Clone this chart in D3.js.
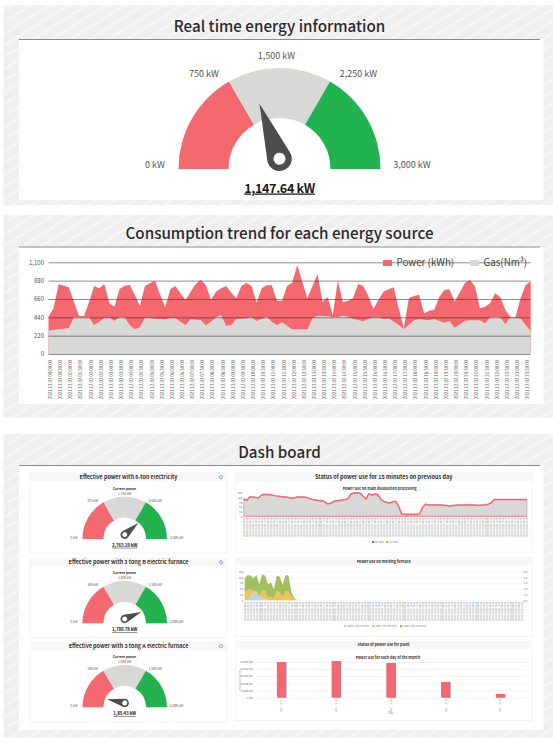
<!DOCTYPE html>
<html>
<head>
<meta charset="utf-8">
<script src="https://cdn.jsdelivr.net/npm/d3@7"></script>
<style>
  body { margin: 0; background: #fff; }
  text { font-family: "Noto Sans CJK KR", "Noto Sans", sans-serif; }
</style>
</head>
<body>
<div id="chart"></div>
<script>
// colors shared by every chart on the page
const RED = '#f4686f', GRAY = '#d8d8d6', GREEN = '#22b24f', DARK = '#4d4d4d'

// gauges
const gaugeStops = [0, 1/3, 2/3, 1]
const mainTicks = ['0 kW', '750 kW', '1,500 kW', '2,250 kW', '3,000 kW']
const mainMax = 3000
const mainValue = 1147.64
const mainLabel = '1,147.64 kW'
const smallTitles = ['Effective power with 6-ton electricity', 'Effective power with 3 tong B electric furnace', 'Effective power with 3 tong A electric furnace']
const smallTicks = [
  ['0 kW', '875 kW', '1,750 kW', '2,625 kW', '3,500 kW'],
  ['0 kW', '500 kW', '1,000 kW', '1,500 kW', '2,000 kW'],
  ['0 kW', '500 kW', '1,000 kW', '1,500 kW', '2,000 kW']
]
const smallMax = [3500, 2000, 2000]
const smallValues = [2763.19, 1789.78, 85.43]
const smallLabels = ['2,763.19 kW', '1,789.78 kW', '1,85.43 kW']

// consumption trend, one point per 15 minutes
const trendPower = [448,548,840,820,800,628,456,456,628,816,788,840,608,568,780,820,828,708,576,816,848,880,708,560,776,816,728,648,748,840,888,828,648,748,788,816,736,668,816,856,816,616,788,824,824,640,640,816,856,1068,868,668,816,956,628,680,468,880,620,640,668,840,816,696,540,648,748,776,800,548,308,668,696,712,488,520,532,688,768,776,628,736,848,888,816,548,568,608,728,680,528,448,440,668,828,872]
const trendGas = [284,288,296,304,312,440,440,440,440,348,388,432,436,400,440,440,348,296,320,436,432,424,420,416,432,432,388,348,416,412,408,344,388,440,468,340,348,424,424,428,440,396,424,448,388,348,380,340,296,296,296,296,428,460,456,452,444,444,460,448,424,408,392,420,440,440,420,428,388,348,300,352,404,420,412,404,420,396,376,396,316,352,400,404,404,404,368,440,440,440,360,440,436,428,348,276]
const trendTicks = [0, 220, 440, 660, 880, 1100]
const trendLegend = ['Power (kWh)', 'Gas(Nm³)']

// main dissolution processing, 15 minutes
const processKwh = [110,101,123,123,120,118,135,139,139,137,133,129,127,125,123,120,114,118,123,123,123,120,114,106,104,101,99,95,80,82,93,99,101,104,106,114,142,148,148,148,129,110,144,135,142,137,108,95,89,85,93,95,61,13,13,13,13,13,13,17,57,78,72,72,72,72,72,70,68,66,68,70,72,72,72,72,72,72,70,70,72,72,76,87,106,106,106,106,106,106,106,106,106,106,106,106]
const processGas = [0,0,0,0,0,0,0,0,0,0,0,0,0,0,0,0,0,0,0,0,0,0,0,0,0,0,0,0,0,0,0,0,0,0,0,0,0,0,0,0,0,0,0,0,0,0,0,0,0,0,0,0,0,0,0,0,0,0,0,0,0,0,0,0,0,0,0,0,0,0,0,0,0,0,0,0,0,0,0,0,0,0,0,0,0,0,0,0,0,0,0,0,0,0,0,0]
const processTicks = [0, 30, 60, 90, 120, 150]

// melting furnace, only the first points of the day have readings
const furnaceNames = ['UBOT 1st line kWh', '2BOT 1st line kWh', '2BOT 2nd line kWh']
const furnaceA = [0,0,20,42,40,16,10,8,0,0,0,0,0,0,0,0,0,0,0]
const furnaceB = [45,53,37,8,8,3,43,40,14,19,10,48,41,14,48,45,19,7,2]
const furnaceC = [69,78,71,64,83,64,81,80,69,74,47,80,81,65,83,83,22,3,0]
const furnaceTicks = [0, 30, 60, 90, 120, 150]
const furnaceRightTicks = [0, 1, 2, 3, 4, 5]

// plant, each day of the month
const plantDays = ['2021.12.01', '2021.12.02', '2021.12.03', '2021.12.04', '2021.12.05']
const plantKwh = [50000, 51400, 48600, 21700, 4700]
const plantTicks = [0, 10000, 20000, 30000, 40000, 50000]

// 96 labels, 15 minutes apart
const quarterHours = d3.utcMinute.every(15)
  .range(new Date(Date.UTC(2021, 11, 2)), new Date(Date.UTC(2021, 11, 3)))
  .map(d3.utcFormat('%Y.%m.%d %H:%M:%S'))

const svg = d3.select('#chart').append('svg').attr('width', 553).attr('height', 744)
  .style('display', 'block')

// diagonal hatching behind the panels
const hatch = svg.append('defs').append('pattern')
  .attr('id', 'hatch').attr('width', 10).attr('height', 10)
  .attr('patternUnits', 'userSpaceOnUse').attr('patternTransform', 'rotate(-32)')
hatch.append('rect').attr('width', 10).attr('height', 10).attr('fill', '#f0f0f0')
hatch.append('rect').attr('width', 10).attr('height', 1.2).attr('fill', '#fafafa')

function panel(y0, y1, whiteTop, whiteBottom, title) {
  svg.append('rect').attr('x', 3.5).attr('y', y0).attr('width', 549.5).attr('height', y1 - y0).attr('fill', 'url(#hatch)')
  svg.append('rect').attr('x', 19).attr('y', whiteTop).attr('width', 524.5).attr('height', whiteBottom - whiteTop).attr('fill', '#fff')
  svg.append('line').attr('x1', 19).attr('x2', 540).attr('y1', whiteTop).attr('y2', whiteTop)
    .attr('stroke', '#8c8c8c').attr('stroke-width', 1)
  svg.append('text').attr('x', 279.5).attr('y', whiteTop - 8).attr('text-anchor', 'middle')
    .attr('font-size', 15.2).attr('font-weight', 500).attr('fill', '#2b2b2b').text(title)
}

panel(5.3, 205, 39.5, 200, 'Real time energy information')
panel(215, 418, 247, 404, 'Consumption trend for each energy source')
panel(434, 738, 465.5, 730, 'Dash board')

function gauge(cx, cy, R, ticks, max, value, label, offsets, o) {
  const k = R / 101
  const g = svg.append('g').attr('transform', `translate(${cx},${cy})`)
  const turn = d3.scaleLinear().domain([0, 1]).range([-Math.PI / 2, Math.PI / 2])
  const arc = d3.arc().innerRadius(R * 0.505).outerRadius(R)
  const colors = [RED, GRAY, GREEN]
  g.selectAll('path.seg').data(d3.pairs(gaugeStops)).enter().append('path')
    .attr('class', 'seg')
    .attr('d', d => arc({ startAngle: turn(d[0]), endAngle: turn(d[1]) }))
    .attr('fill', (d, i) => colors[i])

  g.selectAll('text.tick').data(ticks).enter().append('text')
    .attr('class', 'tick')
    .attr('x', (d, i) => offsets[i][0]).attr('y', (d, i) => offsets[i][1])
    .attr('dy', '.35em').attr('text-anchor', 'middle')
    .attr('font-size', o.tickSize).attr('fill', '#555').text(d => d)

  // needle pivots on the hub, a little above the base of the arc
  const angle = d3.scaleLinear().domain([0, max]).range([-85, 85])
  const hubR = o.hubR, len = o.needleLen
  const tangentY = hubR * hubR / len
  const tangentX = Math.sqrt(hubR * hubR - tangentY * tangentY)
  const needle = g.append('g').attr('transform', `translate(0,${-10.3 * k}) rotate(${angle(value)})`)
  needle.append('path').attr('fill', DARK)
    .attr('d', `M0,${-len}L${tangentX},${-tangentY}A${hubR},${hubR} 0 1 1 ${-tangentX},${-tangentY}Z`)
  needle.append('circle').attr('r', o.holeR).attr('fill', '#fff')

  g.append('text').attr('y', o.valueY).attr('text-anchor', 'middle')
    .attr('font-size', o.valueSize).attr('font-weight', 700).attr('fill', '#1c1c1c')
    .attr('letter-spacing', o.valueSize * -0.03)
    .attr('text-decoration', 'underline').text(label)
}

gauge(279.5, 169, 101, mainTicks, mainMax, mainValue, mainLabel,
  [[-124.5, -4], [-75.5, -95.3], [-3, -113.3], [79, -95.3], [132.5, -4]],
  { tickSize: 9, hubR: 12.3, holeR: 6, needleLen: 58.5, valueSize: 12.6, valueY: 23.5 })

// dashboard cards
function card(x, y, w, h, headerH, title, titleSize, icon) {
  svg.append('rect').attr('x', x).attr('y', y).attr('width', w).attr('height', h)
    .attr('fill', '#fff').attr('stroke', '#eeeeee').attr('stroke-width', 0.7)
  svg.append('rect').attr('x', x).attr('y', y).attr('width', w).attr('height', headerH).attr('fill', '#f7f7f7')
  svg.append('text').attr('x', x + w / 2).attr('y', y + headerH / 2).attr('dy', '.35em')
    .attr('text-anchor', 'middle').attr('font-size', titleSize).attr('font-weight', 700)
    .attr('fill', '#333').text(title)
  if (icon) {
    svg.append('circle').attr('cx', x + w - 6).attr('cy', y + headerH / 2).attr('r', 1.6)
      .attr('fill', 'none').attr('stroke', '#5b9bd5').attr('stroke-width', 0.8)
  }
}

const smallOffsets = [[-50.7, -1.3], [-32, -38], [0, -45], [30.4, -38], [52, -1.3]]
const cardTops = [473, 558, 642]
const cardBottoms = [553, 637.7, 722]
const gaugeBases = [539, 623.3, 707.3]
smallTitles.forEach((t, i) => {
  card(30, cardTops[i], 197, cardBottoms[i] - cardTops[i], 8.5, t, 5.4, true)
  svg.append('text').attr('x', 124.5).attr('y', gaugeBases[i] - 50.3).attr('dy', '.35em')
    .attr('text-anchor', 'middle').attr('font-size', 3.3).attr('font-weight', 700).attr('fill', '#333')
    .text('Current power')
  gauge(124.7, gaugeBases[i], 42.3, smallTicks[i], smallMax[i], smallValues[i], smallLabels[i], smallOffsets,
    { tickSize: 3.2, hubR: 4.2, holeR: 2.5, needleLen: 18, valueSize: 4.5, valueY: 7.8 })
})

// rotated category labels under an axis
function verticalLabels(axisG, gap, size, color) {
  axisG.select('.domain').remove()
  axisG.selectAll('.tick line').remove()
  axisG.selectAll('.tick text')
    .attr('transform', 'rotate(-90)')
    .attr('x', -gap).attr('y', 0).attr('dy', '.35em')
    .attr('text-anchor', 'end').attr('font-size', size).attr('fill', color)
}

// grid lines with their labels; the grid is a left axis with full width ticks
function leftGrid(g, y, ticks, width, fmt, lineColor, lineWidth, size, color) {
  const a = g.append('g').call(d3.axisLeft(y).tickValues(ticks).tickSize(-width).tickFormat(fmt))
  a.select('.domain').remove()
  a.selectAll('.tick line').attr('stroke', lineColor).attr('stroke-width', lineWidth)
  a.selectAll('.tick text').attr('font-size', size).attr('fill', color)
  return a
}

// consumption trend
{
  const x = d3.scalePoint().domain(quarterHours).range([48.5, 530.7])
  const y = d3.scaleLinear().domain([0, 1100]).range([354, 262.3])
  const g = svg.append('g')
  const area = vals => d3.area().x((d, i) => x(quarterHours[i])).y0(y(0)).y1(d => y(d))(vals)
  g.append('path').attr('d', area(trendPower)).attr('fill', RED)
  g.append('path').attr('d', area(trendGas)).attr('fill', GRAY)

  const grid = svg.append('g').attr('transform', 'translate(48.5,0)')
  const a = leftGrid(grid, y, trendTicks, 482, d3.format(','), 'rgba(50,50,50,0.55)', 1, 6, '#555')
  a.selectAll('.tick text').attr('x', -4.5)

  const ax = svg.append('g').attr('transform', 'translate(0,354)')
    .call(d3.axisBottom(x).tickValues(quarterHours.filter((d, i) => i % 2 == 0)))
  verticalLabels(ax, 6, 4.3, '#666')
  ax.selectAll('.tick').attr('transform', function () {
    return d3.select(this).attr('transform').replace(/translate\(([\d.]+)/, (m, v) => `translate(${+v + 1.5}`)
  })

  const legendX = [383, 470]
  const legendColors = [RED, GRAY]
  trendLegend.forEach((t, i) => {
    svg.append('rect').attr('x', legendX[i]).attr('y', 260).attr('width', 9).attr('height', 6).attr('fill', legendColors[i])
    svg.append('text').attr('x', legendX[i] + 13.5).attr('y', 263).attr('dy', '.35em')
      .attr('font-size', 9.8).attr('fill', '#444').text(t)
  })
}

// main dissolution processing
{
  card(235.3, 472.7, 296.7, 79.5, 9, 'Status of power use for 15 minutes on previous day', 5.5, false)
  svg.append('text').attr('x', 379.7).attr('y', 488.7).attr('dy', '.35em').attr('text-anchor', 'middle')
    .attr('font-size', 3.6).attr('font-weight', 700).attr('fill', '#333').text('Power use on main dissolution processing')
  const x = d3.scalePoint().domain(quarterHours).range([243.7, 527])
  const y = d3.scaleLinear().domain([0, 150]).range([516.3, 492.7])
  const grid = svg.append('g').attr('transform', 'translate(243.7,0)')
  leftGrid(grid, y, processTicks, 283.3, d3.format('d'), '#e3f0f0', 0.5, 2.8, '#777')
    .selectAll('.tick text').attr('x', -1.5)
  const g = svg.append('g')
  g.append('path').attr('fill', GRAY).attr('stroke', RED).attr('stroke-width', 0.5)
    .attr('d', d3.area().x((d, i) => x(quarterHours[i])).y0(y(0)).y1(d => y(d))(processKwh))
  g.append('path').attr('fill', 'none').attr('stroke', RED).attr('stroke-width', 1.5)
    .attr('d', d3.line().x((d, i) => x(quarterHours[i])).y(d => y(d))(processKwh))
  g.append('path').attr('fill', 'none').attr('stroke', RED).attr('stroke-width', 0.6)
    .attr('d', d3.line().x((d, i) => x(quarterHours[i])).y(d => y(d))(processGas))
  const ax = svg.append('g').attr('transform', 'translate(0,516.3)').call(d3.axisBottom(x))
  verticalLabels(ax, 1.6, 2.1, '#888')
  const names = ['KC kWh', 'EO kWh']
  const colors = ['#5568c8', '#f0a050']
  names.forEach((t, i) => {
    svg.append('rect').attr('x', 372 + i * 14).attr('y', 541).attr('width', 2.2).attr('height', 2).attr('fill', colors[i])
    svg.append('text').attr('x', 375 + i * 14).attr('y', 542).attr('dy', '.35em')
      .attr('font-size', 2.6).attr('fill', '#888').text(t)
  })
}

// melting furnace
{
  card(235.3, 557.7, 296.7, 79, 7.5, 'Power use on melting furnace', 3.7, false)
  const x = d3.scalePoint().domain(quarterHours).range([244.7, 522])
  const y = d3.scaleLinear().domain([0, 150]).range([600.3, 571.3])
  const grid = svg.append('g').attr('transform', 'translate(244.7,0)')
  leftGrid(grid, y, furnaceTicks, 277.3, d3.format('d'), '#e3f0f0', 0.5, 2.8, '#777')
    .selectAll('.tick text').attr('x', -1.5)
  const yRight = d3.scaleLinear().domain([0, 5]).range(y.range())
  const right = svg.append('g').attr('transform', 'translate(522,0)')
    .call(d3.axisRight(yRight).tickValues(furnaceRightTicks).tickSize(0).tickFormat(d3.format('.1f')))
  right.select('.domain').remove()
  right.selectAll('.tick text').attr('x', 1.5).attr('font-size', 2.8).attr('fill', '#777')

  const rows = furnaceA.map((d, i) => ({ a: d, b: furnaceB[i], c: furnaceC[i] }))
  const stack = d3.stack().keys(['a', 'b', 'c'])(rows)
  const fills = ['#b5d8ea', '#f0c25a', '#a3c05f']
  const area = d3.area().x((d, i) => x(quarterHours[i])).y0(d => y(d[0])).y1(d => y(d[1]))
  svg.append('g').selectAll('path').data(stack).enter().append('path')
    .attr('d', area).attr('fill', (d, i) => fills[i])
  const ax = svg.append('g').attr('transform', 'translate(0,600.3)').call(d3.axisBottom(x))
  verticalLabels(ax, 1.6, 2.1, '#888')
  const legendX = [343.7, 372, 400]
  furnaceNames.forEach((t, i) => {
    svg.append('rect').attr('x', legendX[i]).attr('y', 625).attr('width', 2.4).attr('height', 2.4).attr('fill', fills[i])
    svg.append('text').attr('x', legendX[i] + 3.2).attr('y', 626.2).attr('dy', '.35em')
      .attr('font-size', 2.6).attr('fill', '#888').text(t)
  })
}

// plant
{
  card(235.3, 641.3, 296.7, 79, 7.7, 'Status of power use for plant', 3.7, false)
  svg.append('text').attr('x', 388).attr('y', 657.7).attr('dy', '.35em').attr('text-anchor', 'middle')
    .attr('font-size', 3.6).attr('font-weight', 700).attr('fill', '#333').text('Power use for each day of the month')
  const x = d3.scaleBand().domain(plantDays).range([254.7, 527]).paddingInner(0.835).paddingOuter(0.405)
  const y = d3.scaleLinear().domain([0, 50000]).range([697.3, 662])
  const grid = svg.append('g').attr('transform', 'translate(254.7,0)')
  leftGrid(grid, y, plantTicks, 272.3, d => d3.format(',')(d) + ' kW', '#e6e6e6', 0.5, 2.6, '#777')
    .selectAll('.tick text').attr('x', -2)
  const bars = svg.append('g')
  bars.selectAll('rect.back').data(plantKwh).enter().append('rect').attr('class', 'back')
    .attr('x', (d, i) => x(plantDays[i]) + 0.6).attr('width', x.bandwidth())
    .attr('y', d => y(d)).attr('height', d => y(0) - y(d) + 0.5).attr('fill', '#8a9ad8')
  bars.selectAll('rect.front').data(plantKwh).enter().append('rect').attr('class', 'front')
    .attr('x', (d, i) => x(plantDays[i])).attr('width', x.bandwidth())
    .attr('y', d => y(d)).attr('height', d => y(0) - y(d)).attr('fill', RED)
  const ax = svg.append('g').attr('transform', 'translate(0,697.3)').call(d3.axisBottom(x))
  verticalLabels(ax, 1.8, 2.6, '#888')
  svg.append('text').attr('x', 390.7).attr('y', 712.7).attr('dy', '.35em').attr('text-anchor', 'middle')
    .attr('font-size', 2.8).attr('fill', '#888').text('Day')
  svg.append('text').attr('transform', 'translate(241,679.7) rotate(-90)').attr('text-anchor', 'middle')
    .attr('font-size', 2.6).attr('fill', '#888').text('Power use (kWh)')
}
</script>
</body>
</html>
